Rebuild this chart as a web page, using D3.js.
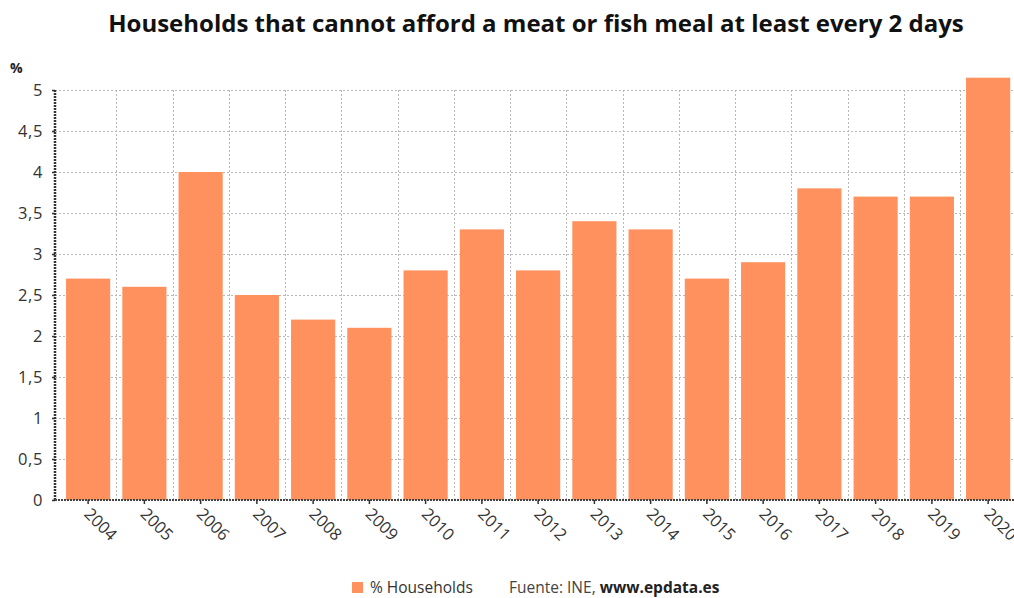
<!DOCTYPE html>
<html lang="en">
<head>
    <meta charset="UTF-8">
    <title>Households meat or fish</title>
    <script src="https://d3js.org/d3.v7.min.js"></script>
    <style>
        body { margin: 0; background: #fff; font-family: "Open Sans", sans-serif; }
    </style>
</head>
<body>
    <div id="vis"></div>
    <script>

        var years = ["2004", "2005", "2006", "2007", "2008", "2009", "2010", "2011", "2012",
                     "2013", "2014", "2015", "2016", "2017", "2018", "2019", "2020"];
        var households = [2.7, 2.6, 4.0, 2.5, 2.2, 2.1, 2.8, 3.3, 2.8,
                          3.4, 3.3, 2.7, 2.9, 3.8, 3.7, 3.7, 5.15];
        var yTicks = [0, 0.5, 1, 1.5, 2, 2.5, 3, 3.5, 4, 4.5, 5];

        var width = 1014;
        var height = 598;
        var barColor = "#fe915e";

        var svg = d3.select("#vis")
            .append("svg")
            .attr("width", width)
            .attr("height", height);

        // plot box
        var left = 55, bottom = 500, top5 = 90;

        var y_scale = d3.scaleLinear()
            .domain([0, 5])
            .range([bottom, top5]);

        var x_scale = d3.scaleBand()
            .domain(years)
            .range([60, 60 + 17 * 56.25])
            .paddingInner(0.215)
            .paddingOuter(0.1075);

        // title
        svg.append("text")
            .attr("x", 536)
            .attr("y", 32)
            .attr("text-anchor", "middle")
            .attr("font-size", "24px")
            .attr("font-weight", "bold")
            .attr("fill", "#111")
            .text("Households that cannot afford a meat or fish meal at least every 2 days");

        svg.append("text")
            .attr("x", 10)
            .attr("y", 73)
            .attr("font-size", "14px")
            .attr("font-weight", "bold")
            .attr("fill", "#222")
            .text("%");

        // horizontal grid
        svg.append("g")
            .selectAll("line")
            .data(yTicks.slice(1))
            .enter()
            .append("line")
            .attr("x1", left)
            .attr("x2", width)
            .attr("y1", function(d){ return y_scale(d) + 0.5; })
            .attr("y2", function(d){ return y_scale(d) + 0.5; })
            .attr("stroke", "#b8b8b8")
            .attr("stroke-dasharray", "2,2");

        // vertical grid at band boundaries
        var step = x_scale.step();
        svg.append("g")
            .selectAll("line")
            .data(years.slice(1))
            .enter()
            .append("line")
            .attr("x1", function(d){ return Math.round(x_scale(d) - x_scale.paddingOuter() * step) + 0.5; })
            .attr("x2", function(d){ return Math.round(x_scale(d) - x_scale.paddingOuter() * step) + 0.5; })
            .attr("y1", top5)
            .attr("y2", bottom)
            .attr("stroke", "#b8b8b8")
            .attr("stroke-dasharray", "2,2");

        // bars
        svg.selectAll(".bar")
            .data(households)
            .enter()
            .append("rect")
            .attr("class", "bar")
            .attr("x", function(d, i){ return x_scale(years[i]); })
            .attr("width", x_scale.bandwidth())
            .attr("y", function(d){ return y_scale(d); })
            .attr("height", function(d){ return bottom - y_scale(d); })
            .attr("fill", barColor);

        // y axis
        var y_axis = d3.axisLeft(y_scale)
            .tickValues(yTicks)
            .tickSize(3)
            .tickFormat(function(d){ return String(d).replace(".", ","); });

        var gy = svg.append("g")
            .attr("transform", "translate(" + left + ",0)")
            .call(y_axis);
        gy.select(".domain")
            .attr("d", "M0," + top5 + "V" + bottom)
            .attr("stroke", "#333")
            .attr("stroke-width", 2.5)
            .attr("stroke-dasharray", "2,1");
        gy.selectAll(".tick line").attr("stroke", "#333").attr("stroke-width", 1.5);
        gy.selectAll(".tick text")
            .attr("x", -12)
            .attr("font-family", "Open Sans, sans-serif")
            .attr("font-size", "16.5px")
            .attr("letter-spacing", "0.6px")
            .attr("fill", "#333");

        // x axis
        var x_axis = d3.axisBottom(x_scale).tickSize(4).tickSizeOuter(0);
        var gx = svg.append("g")
            .attr("transform", "translate(0," + bottom + ")")
            .call(x_axis);
        gx.select(".domain")
            .attr("d", "M" + left + ",0H" + width)
            .attr("stroke", "#444")
            .attr("stroke-width", 2)
            .attr("stroke-dasharray", "2,1");
        gx.selectAll(".tick line").attr("stroke", "#333").attr("stroke-width", 1.5);
        gx.selectAll(".tick text")
            .attr("font-family", "Open Sans, sans-serif")
            .attr("font-size", "16.5px")
            .attr("fill", "#333")
            .attr("text-anchor", "start")
            .attr("dy", null)
            .attr("y", 0)
            .attr("transform", "translate(-5,15) rotate(45)");

        // legend
        var legend = svg.append("g").attr("font-size", "15.5px");
        legend.append("rect")
            .attr("x", 352)
            .attr("y", 582)
            .attr("width", 11)
            .attr("height", 11)
            .attr("fill", barColor);
        legend.append("text")
            .attr("x", 370)
            .attr("y", 593)
            .attr("fill", "#333")
            .text("% Households");
        var src = legend.append("text")
            .attr("x", 509)
            .attr("y", 593)
            .attr("fill", "#444");
        src.append("tspan").text("Fuente: INE, ");
        src.append("tspan").attr("font-weight", "bold").attr("fill", "#222").text("www.epdata.es");

    </script>
</body>
</html>
